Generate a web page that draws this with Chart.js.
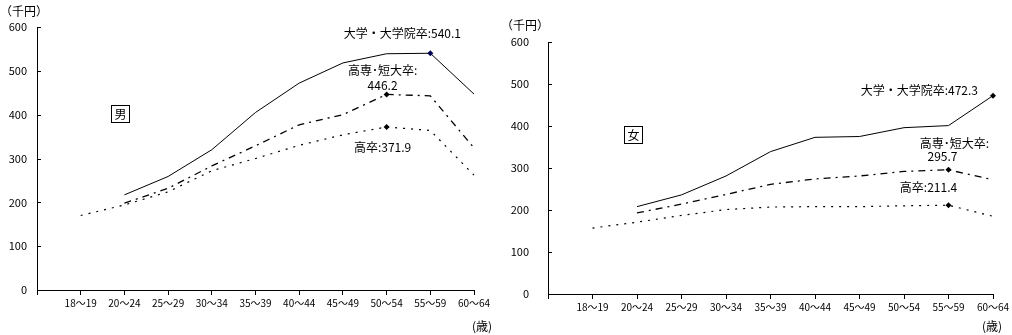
<!DOCTYPE html>
<html lang="ja">
<head>
<meta charset="UTF-8">
<title>学歴別・年齢階級別賃金</title>
<script src="https://cdn.jsdelivr.net/npm/chart.js"></script>
<style>
    body {
        margin: 0;
        background: #fff;
        width: 1012px;
        height: 335px;
        overflow: hidden;
        position: relative;
    }
    canvas {
        position: absolute;
        top: 0;
    }
    #maleChart { left: 0; }
    #femaleChart { left: 500px; }
</style>
</head>
<body>
<canvas id="maleChart" width="500" height="335"></canvas>
<canvas id="femaleChart" width="512" height="335"></canvas>

<script>
// 年齢階級（先頭は軸の始点用の空欄）
const ageLabels = ['', '18～19', '20～24', '25～29', '30～34', '35～39', '40～44', '45～49', '50～54', '55～59', '60～64'];
const yTicks = [0, 100, 200, 300, 400, 500, 600];

// 男（千円）
const univMale   = [null, null, 217, 259, 320, 405, 472, 518, 539, 540.1, 447];
const juniorMale = [null, null, 198, 232, 283, 329, 377, 400, 446.2, 443, 324];
const highMale   = [null, 170, 194, 224, 272, 300, 330, 354, 371.9, 364, 262];

// 女（千円）
const univFemale   = [null, null, 208, 236, 281, 339, 373, 375, 396, 401, 472.3];
const juniorFemale = [null, null, 193, 214, 237, 261, 274, 281, 292, 295.7, 272];
const highFemale   = [null, 157, 171, 187, 201, 207, 208, 208, 210, 211.4, 185];

const FONT = "'Noto Sans CJK JP', sans-serif";

function series(label, data, mark, dash, width, markColor) {
    return {
        label: label,
        data: data,
        borderColor: '#000',
        borderWidth: width,
        borderDash: dash,
        backgroundColor: markColor || '#000',
        pointStyle: 'rectRot',
        pointRadius: ctx => ctx.dataIndex === mark ? 3 : 0,
        pointBorderWidth: 0,
        tension: 0,
        spanGaps: false,
        fill: false
    };
}

// 軸の内側の目盛り線・注記・単位を描く
const decorations = {
    id: 'decorations',
    afterDraw(chart, args, opts) {
        const ctx = chart.ctx;
        const area = chart.chartArea;
        const x = chart.scales.x;
        const y = chart.scales.y;
        ctx.save();
        ctx.strokeStyle = '#000';
        ctx.lineWidth = 1;
        yTicks.forEach(v => {
            const py = Math.round(y.getPixelForValue(v)) + 0.5;
            ctx.beginPath();
            ctx.moveTo(area.left, py);
            ctx.lineTo(area.left + 4, py);
            ctx.stroke();
        });

        ctx.fillStyle = '#000';
        ctx.font = '12px ' + FONT;
        ctx.textBaseline = 'middle';

        opts.notes.forEach(n => {
            const ds = chart.data.datasets[n.ds];
            const v = ds.data[n.idx];
            const px = x.getPixelForValue(n.idx);
            const py = y.getPixelForValue(v);
            ctx.textAlign = n.align;
            const lines = n.split
                ? [ds.label + ':', v.toFixed(1)]
                : [ds.label + ':' + v.toFixed(1)];
            lines.forEach((t, i) => {
                const off = n.offsets[i];
                ctx.fillText(t, px + off[0], py + off[1]);
            });
        });

        // 単位
        ctx.textAlign = 'left';
        ctx.fillText('（千円）', opts.unitY[0], opts.unitY[1]);
        ctx.fillText('(歳)', opts.unitX[0], opts.unitX[1]);

        // 性別の枠
        const b = opts.box;
        ctx.strokeRect(b.x + 0.5, b.y + 0.5, 18, 17);
        ctx.textAlign = 'center';
        ctx.fillText(b.text, b.x + 9.5, b.y + 9.5);
        ctx.restore();
    }
};

function makeChart(id, datasets, dims, deco) {
    return new Chart(document.getElementById(id), {
        type: 'line',
        data: { labels: ageLabels, datasets: datasets },
        options: {
            responsive: false,
            animation: false,
            events: [],
            layout: { padding: { top: dims.top, right: dims.right, left: 0, bottom: 0 } },
            scales: {
                x: {
                    type: 'category',
                    offset: false,
                    afterFit: s => { s.height = dims.xHeight; },
                    border: { display: true, color: '#000', width: 1 },
                    grid: { drawOnChartArea: false, drawTicks: true, tickLength: 5, color: '#000' },
                    ticks: {
                        autoSkip: false,
                        maxRotation: 0,
                        padding: 2,
                        color: '#000',
                        font: { family: FONT, size: 10 }
                    }
                },
                y: {
                    min: 0,
                    max: 600,
                    afterFit: s => { s.width = dims.yWidth; },
                    border: { display: true, color: '#000', width: 1 },
                    grid: { display: true, drawOnChartArea: false, drawTicks: false },
                    ticks: {
                        stepSize: 100,
                        padding: dims.yPad,
                        color: '#000',
                        font: { family: FONT, size: 11 }
                    }
                }
            },
            plugins: {
                legend: { display: false },
                tooltip: { enabled: false },
                decorations: deco
            }
        },
        plugins: [decorations]
    });
}

makeChart('maleChart', [
    series('大学・大学院卒', univMale, 9, [], 1, '#000050'),
    series('高専･短大卒', juniorMale, 8, [7, 5, 2, 5], 1.3),
    series('高卒', highMale, 8, [2, 6], 1.2)
], { top: 27, right: 26, xHeight: 45, yWidth: 37, yPad: 10 }, {
    notes: [
        { ds: 0, idx: 9, align: 'center', offsets: [[-28, -20]] },
        { ds: 1, idx: 8, align: 'center', split: true, offsets: [[-4, -24], [-4, -9]] },
        { ds: 2, idx: 8, align: 'center', offsets: [[-4, 20]] }
    ],
    unitY: [0, 11],
    unitX: [472, 326],
    box: { x: 111, y: 105, text: '男' }
});

makeChart('femaleChart', [
    series('大学・大学院卒', univFemale, 10, [], 1),
    series('高専･短大卒', juniorFemale, 9, [7, 5, 2, 5], 1.3),
    series('高卒', highFemale, 9, [2, 6], 1.2)
], { top: 42, right: 19, xHeight: 41, yWidth: 48, yPad: 19 }, {
    notes: [
        { ds: 0, idx: 10, align: 'right', offsets: [[-15, -5]] },
        { ds: 1, idx: 9, align: 'center', split: true, offsets: [[6, -26], [-6, -13]] },
        { ds: 2, idx: 9, align: 'center', offsets: [[-20, -18]] }
    ],
    unitY: [1, 25],
    unitX: [482, 326],
    box: { x: 124, y: 126, text: '女' }
});
</script>
</body>
</html>
